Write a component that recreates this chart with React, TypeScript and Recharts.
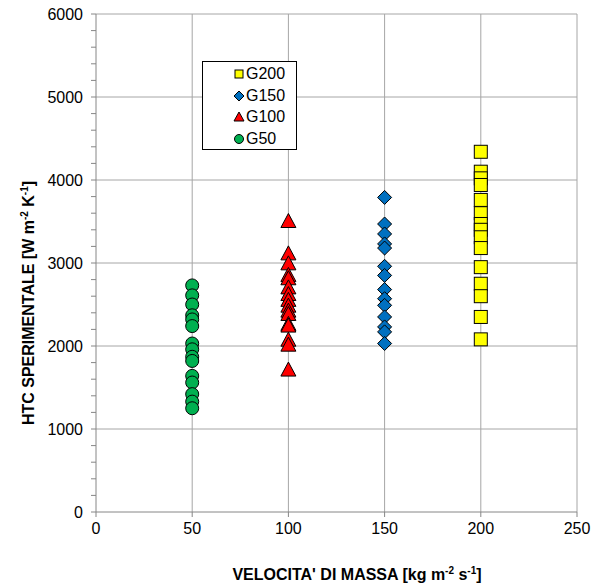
import { ScatterChart, Scatter, XAxis, YAxis, CartesianGrid } from "recharts";

const massFlux = [50, 100, 150, 200];
const g50Values = [2730, 2610, 2500, 2370, 2320, 2240, 2030, 1960, 1870, 1820, 1640, 1560, 1420, 1330, 1250];
const g100Values = [3500, 3110, 2990, 2850, 2810, 2700, 2620, 2550, 2480, 2420, 2380, 2260, 2240, 2070, 2010, 1710];
const g150Values = [3790, 3470, 3350, 3230, 3180, 2960, 2850, 2680, 2570, 2490, 2350, 2230, 2170, 2030];
const g200Values = [4340, 4100, 4020, 3940, 3760, 3600, 3470, 3400, 3310, 3180, 2950, 2750, 2600, 2350, 2080];
const yTicks = Array.from({ length: 31 }, (_, i) => i * 200);
const xTicks = [0, 50, 100, 150, 200, 250];

const toPoints = (x: number, vals: number[]) => vals.map((y) => ({ x, y }));

const FONT = "Liberation Sans, Arial, sans-serif";

const Square = ({ cx, cy }: any) => (
  <rect x={cx - 6.5} y={cy - 6.5} width={13} height={13} fill="#FFFF00" stroke="#000" strokeWidth={1} />
);
const Diamond = ({ cx, cy }: any) => (
  <path d={`M${cx},${cy - 7}L${cx + 7},${cy}L${cx},${cy + 7}L${cx - 7},${cy}Z`} fill="#0070C0" stroke="#000" strokeWidth={1} />
);
const Triangle = ({ cx, cy }: any) => (
  <path d={`M${cx},${cy - 8}L${cx + 7.5},${cy + 6}L${cx - 7.5},${cy + 6}Z`} fill="#FF0000" stroke="#000" strokeWidth={1} />
);
const Circle = ({ cx, cy }: any) => (
  <circle cx={cx} cy={cy} r={6.5} fill="#00B050" stroke="#000" strokeWidth={1} />
);

const legendItems = [
  { name: "G200", icon: <rect x={2} y={2} width={8} height={8} fill="#FFFF00" stroke="#000" /> },
  { name: "G150", icon: <path d="M6,1L11,6L6,11L1,6Z" fill="#0070C0" stroke="#000" /> },
  { name: "G100", icon: <path d="M6,1L11,10L1,10Z" fill="#FF0000" stroke="#000" /> },
  { name: "G50", icon: <circle cx={6} cy={6} r={4.5} fill="#00B050" stroke="#000" /> },
];

const LegendBox = () => (
  <div
    style={{
      position: "absolute",
      left: 202,
      top: 61,
      width: 95,
      height: 89,
      border: "1px solid #000",
      background: "#fff",
      fontFamily: FONT,
      fontSize: 16,
      paddingTop: 1,
      boxSizing: "border-box",
      color: "#000",
    }}
  >
    {legendItems.map((it) => (
      <div key={it.name} style={{ display: "flex", alignItems: "center", height: 21.7, paddingLeft: 30 }}>
        <svg width={12} height={12} style={{ marginRight: 1 }}>{it.icon}</svg>
        <span>{it.name}</span>
      </div>
    ))}
  </div>
);

const XLabel = () => (
  <text x={357} y={580} textAnchor="middle" fontFamily={FONT} fontSize={16} fontWeight="bold" fill="#000">
    VELOCITA' DI MASSA [kg m
    <tspan fontSize={10} dy={-6}>-2</tspan>
    <tspan dy={6}> s</tspan>
    <tspan fontSize={10} dy={-6}>-1</tspan>
    <tspan dy={6}>]</tspan>
  </text>
);

const YLabel = () => (
  <text
    x={0}
    y={0}
    transform="translate(34,303) rotate(-90)"
    textAnchor="middle"
    fontFamily={FONT}
    fontSize={16}
    fontWeight="bold"
    fill="#000"
  >
    HTC SPERIMENTALE [W m
    <tspan fontSize={10} dy={-6}>-2</tspan>
    <tspan dy={6}> K</tspan>
    <tspan fontSize={10} dy={-6}>-1</tspan>
    <tspan dy={6}>]</tspan>
  </text>
);

export default function App() {
  return (
    <div style={{ position: "absolute", left: 0, top: 0, width: 591, height: 586, background: "#fff" }}>
      <ScatterChart width={591} height={586} margin={{ top: 14, right: 14, bottom: 44, left: 36 }}>
        <CartesianGrid
          stroke="#A6A6A6"
          horizontalValues={[1000, 2000, 3000, 4000, 5000, 6000]}
          verticalValues={[50, 100, 150, 200, 250]}
        />
        <XAxis
          type="number"
          dataKey="x"
          domain={[0, 250]}
          ticks={xTicks}
          height={30}
          tickSize={5}
          tickMargin={6}
          stroke="#868686"
          tick={{ fill: "#000", fontSize: 16, fontFamily: FONT }}
          label={<XLabel />}
        />
        <YAxis
          type="number"
          dataKey="y"
          domain={[0, 6000]}
          ticks={yTicks}
          interval={0}
          width={60}
          tickSize={5}
          tickMargin={8}
          stroke="#868686"
          tickFormatter={(v: number) => (v % 1000 === 0 ? String(v) : "")}
          tick={{ fill: "#000", fontSize: 16, fontFamily: FONT }}
          label={<YLabel />}
        />
        <Scatter name="G50" data={toPoints(massFlux[0], g50Values)} shape={<Circle />} isAnimationActive={false} />
        <Scatter name="G100" data={toPoints(massFlux[1], g100Values)} shape={<Triangle />} isAnimationActive={false} />
        <Scatter name="G150" data={toPoints(massFlux[2], g150Values)} shape={<Diamond />} isAnimationActive={false} />
        <Scatter name="G200" data={toPoints(massFlux[3], g200Values)} shape={<Square />} isAnimationActive={false} />
      </ScatterChart>
      <LegendBox />
    </div>
  );
}
